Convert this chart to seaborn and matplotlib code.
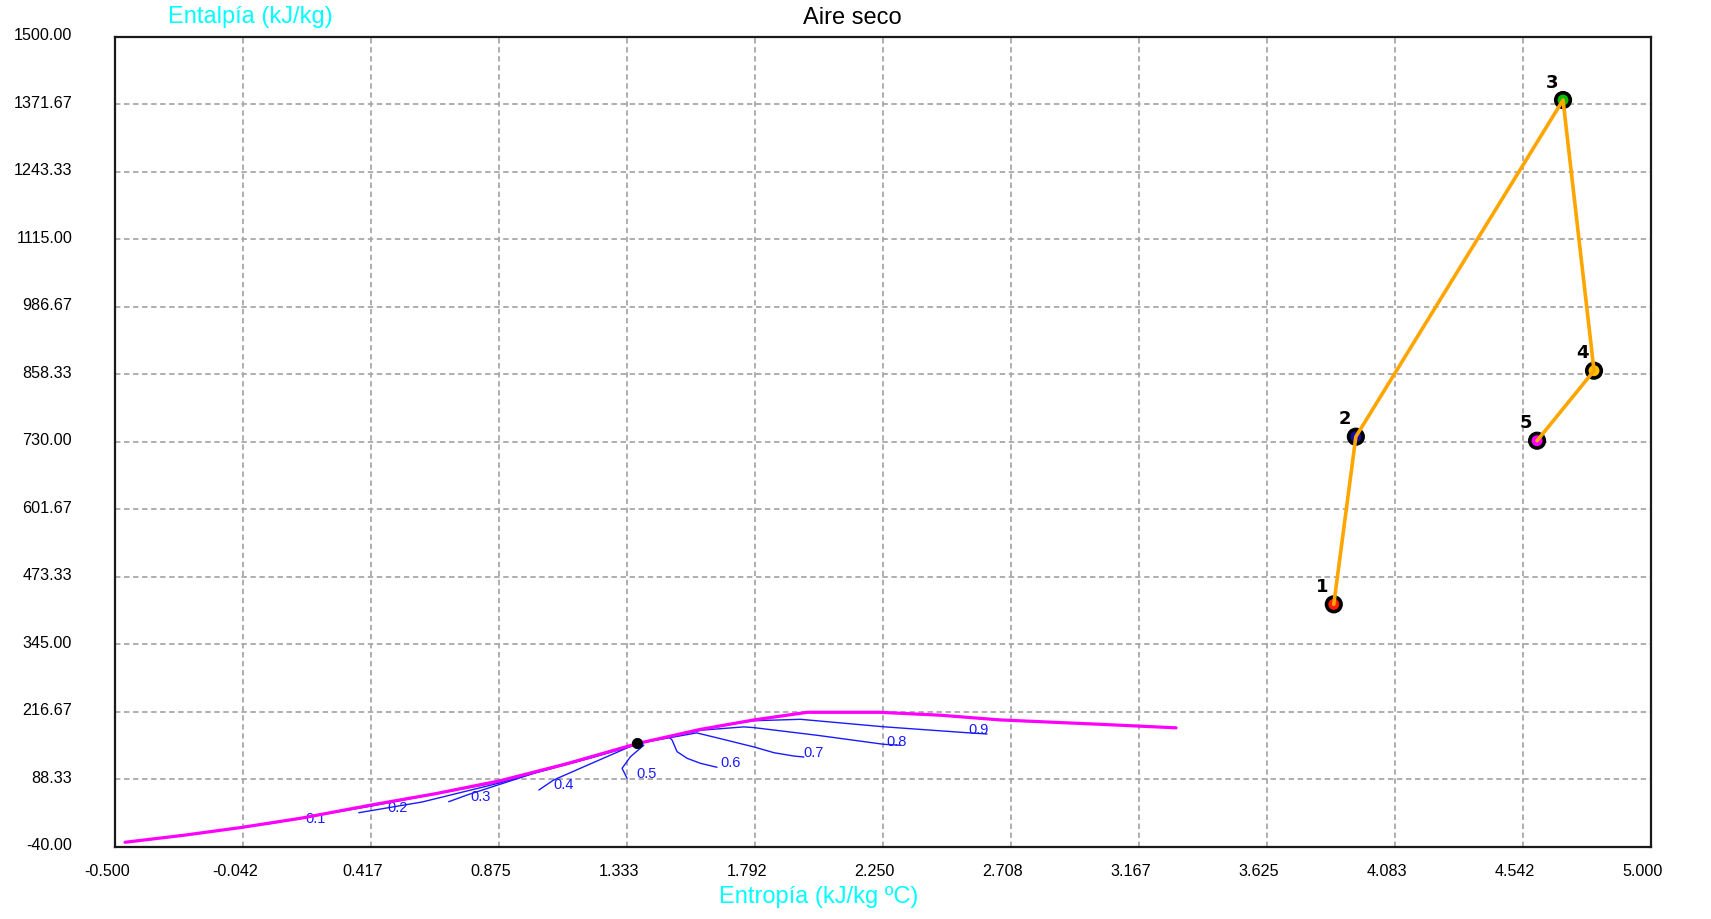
import numpy as np
import pandas as pd
import matplotlib
matplotlib.use("Agg")
import matplotlib.pyplot as plt
import matplotlib.transforms as mtransforms
import seaborn as sns

# ---------------- data ----------------
# saturation curve (magenta)
sat_s = [-0.464, -0.250, -0.046, 0.164, 0.415, 0.650, 0.880, 1.120, 1.370, 1.596, 1.788, 1.979, 2.241, 2.456, 2.671, 3.029, 3.300]
sat_h = [-31.6, -18.0, -3.3, 14.0, 39.0, 61.0, 85.5, 118.0, 156.0, 183.0, 201.0, 215.5, 215.5, 210.0, 201.0, 192.7, 186.0]

# critical point
crit_s = [1.370]
crit_h = [156.6]

# quality lines (blue)
q_names = ["0.1", "0.2", "0.3", "0.4", "0.5", "0.6", "0.7", "0.8", "0.9"]
q01_s = [1.370, 0.880, 0.415, 0.045]
q01_h = [156.0, 83.5, 37.0, 3.0]
q02_s = [1.370, 1.100, 0.880, 0.600, 0.373]
q02_h = [155.0, 115.0, 81.5, 45.0, 24.6]
q03_s = [1.370, 1.200, 1.000, 0.761, 0.695]
q03_h = [154.0, 128.0, 99.5, 58.3, 45.5]
q04_s = [1.370, 1.346, 1.179, 1.071, 1.018]
q04_h = [154.0, 150.6, 112.0, 86.8, 67.8]
q05_s = [1.370, 1.394, 1.346, 1.316, 1.334]
q05_h = [156.0, 153.0, 131.0, 109.0, 90.0]
q06_s = [1.370, 1.483, 1.495, 1.513, 1.549, 1.597, 1.656]
q06_h = [156.0, 169.0, 162.9, 140.7, 128.0, 118.5, 111.0]
q07_s = [1.370, 1.583, 1.656, 1.788, 1.860, 1.931, 1.967]
q07_h = [156.0, 176.4, 167.0, 149.7, 138.7, 132.4, 130.5]
q08_s = [1.370, 1.600, 1.752, 1.788, 2.015, 2.253, 2.312]
q08_h = [156.0, 181.5, 187.8, 186.4, 171.8, 154.7, 152.9]
q09_s = [1.370, 1.596, 1.739, 1.788, 1.955, 2.253, 2.551, 2.623]
q09_h = [156.0, 182.0, 195.7, 199.5, 202.2, 188.0, 176.7, 174.3]
q_lab_s = [0.182, 0.477, 0.773, 1.071, 1.369, 1.668, 1.964, 2.262, 2.558]
q_lab_h = [12.6, 34.0, 55.0, 76.6, 97.6, 118.5, 139.0, 159.3, 181.0]

# thermodynamic cycle (orange)
cycle_labels = ["1", "2", "3", "4", "5"]
cycle_s = [3.865, 3.944, 4.686, 4.797, 4.593]
cycle_h = [420.8, 739.5, 1379.6, 865.0, 731.9]
cycle_colors = ["#ff2000", "#1010a0", "#00c000", "#ffc000", "#ff00ff"]

# axes
x_ticks = [-0.500, -0.042, 0.417, 0.875, 1.333, 1.792, 2.250, 2.708, 3.167, 3.625, 4.083, 4.542, 5.000]
x_ticklabels = ["-0.500", "-0.042", "0.417", "0.875", "1.333", "1.792", "2.250", "2.708",
                "3.167", "3.625", "4.083", "4.542", "5.000"]
y_ticks = [-40.00, 88.33, 216.67, 345.00, 473.33, 601.67, 730.00, 858.33, 986.67, 1115.00,
           1243.33, 1371.67, 1500.00]
y_ticklabels = ["-40.00", "88.33", "216.67", "345.00", "473.33", "601.67", "730.00", "858.33",
                "986.67", "1115.00", "1243.33", "1371.67", "1500.00"]

title = "Aire seco"
xlabel = "Entropía (kJ/kg ºC)"
ylabel = "Entalpía (kJ/kg)"

# ---------------- build frames ----------------
q_s = [q01_s, q02_s, q03_s, q04_s, q05_s, q06_s, q07_s, q08_s, q09_s]
q_h = [q01_h, q02_h, q03_h, q04_h, q05_h, q06_h, q07_h, q08_h, q09_h]
rows = []
for name, ss, hh in zip(q_names, q_s, q_h):
    for i, (s, h) in enumerate(zip(ss, hh)):
        rows.append({"q": name, "i": i, "s": s, "h": h})
qdf = pd.DataFrame(rows)
satdf = pd.DataFrame({"s": sat_s, "h": sat_h})
cycdf = pd.DataFrame({"s": cycle_s, "h": cycle_h, "label": cycle_labels})

# ---------------- plot ----------------
sns.set_theme(style="white")
plt.rcParams["font.family"] = ["Liberation Sans", "DejaVu Sans"]

W, H = 1711, 919
fig = plt.figure(figsize=(W / 100, H / 100), dpi=100)
L, R, T, B = 115.0, 1650.7, 36.7, 846.7
ax = fig.add_axes([L / W, 1 - B / H, (R - L) / W, (B - T) / H])

# quality lines
sns.lineplot(data=qdf, x="s", y="h", units="q", estimator=None, sort=False,
             color="#1a1aff", linewidth=1.0, ax=ax, zorder=2, legend=False)
for lab, s, h in zip(q_names, q_lab_s, q_lab_h):
    ax.text(s, h, lab, color="#1a1aff", fontsize=10.5, ha="left", va="center", zorder=3)

# saturation curve
sns.lineplot(data=satdf, x="s", y="h", sort=False, estimator=None,
             color="#ff00ff", linewidth=2.3, ax=ax, zorder=3)
# critical point
sns.scatterplot(x=crit_s, y=crit_h, color="black", s=55, edgecolor="black", ax=ax, zorder=4)

# cycle
sns.scatterplot(data=cycdf, x="s", y="h", hue="label", palette=cycle_colors, s=110,
                edgecolor="black", linewidth=2.6, ax=ax, zorder=5, legend=False)
sns.lineplot(data=cycdf, x="s", y="h", sort=False, estimator=None,
             color="#ffa500", linewidth=2.6, ax=ax, zorder=6)
for lab, s, h in zip(cycle_labels, cycle_s, cycle_h):
    ax.annotate(lab, (s, h), xytext=(-8, 12.6), textcoords="offset points",
                ha="center", va="center", fontsize=13, fontweight="bold",
                family="DejaVu Sans", color="black", zorder=7)

# axes styling
ax.set_xlim(-0.5, 5.0)
ax.set_ylim(-40, 1500)
ax.set_xticks(x_ticks)
ax.set_xticklabels(x_ticklabels)
ax.set_yticks(y_ticks)
ax.set_yticklabels(y_ticklabels)
ax.set_xlabel("")
ax.set_ylabel("")
ax.grid(True, color="#a8a8a8", linestyle=(0, (3, 2)), linewidth=1.3)
ax.set_axisbelow(True)
for sp in ax.spines.values():
    sp.set_color("#1a1a1a")
    sp.set_linewidth(1.6)
ax.tick_params(axis="x", direction="out", length=7.5, width=1.5, color="#808080",
               labelsize=11.6, labelcolor="black", pad=5)
ax.tick_params(axis="y", direction="out", length=8.8, width=1.5, color="#808080",
               labelsize=11.6, labelcolor="black", pad=22)
offx = mtransforms.ScaledTranslation(-8 / 100, 0, fig.dpi_scale_trans)
for t in ax.get_xticklabels():
    t.set_transform(t.get_transform() + offx)
offy = mtransforms.ScaledTranslation(0, 2.5 / 100, fig.dpi_scale_trans)
for t in ax.get_yticklabels():
    t.set_transform(t.get_transform() + offy)

fig.text(852.5 / W, 1 - 18 / H, title, ha="center", va="center", fontsize=17, color="black")
fig.text(819 / W, 1 - 897 / H, xlabel, ha="center", va="center", fontsize=17, color="#00ffff")
fig.text(250.8 / W, 1 - 17 / H, ylabel, ha="center", va="center", fontsize=17, color="#00ffff")

fig.savefig("out.png", dpi=100)
